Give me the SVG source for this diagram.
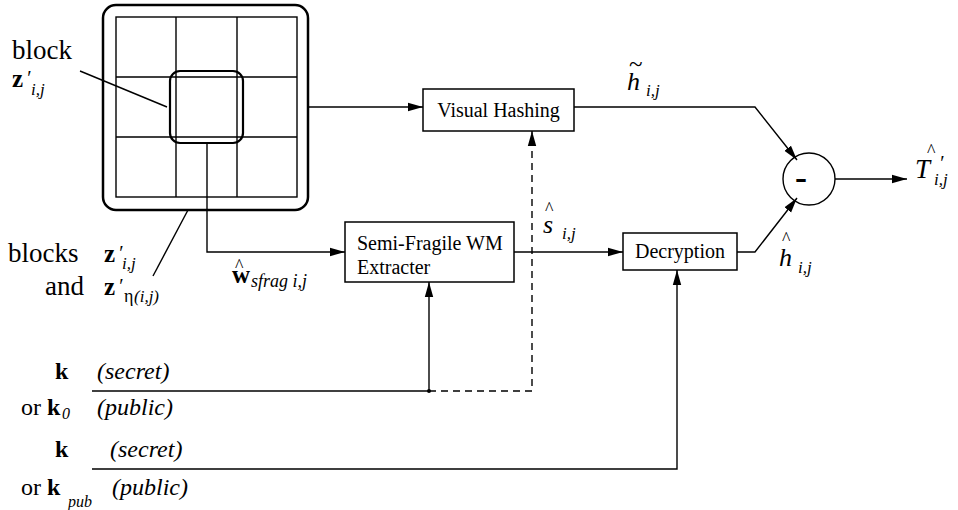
<svg xmlns="http://www.w3.org/2000/svg" width="958" height="510" viewBox="0 0 958 510">
<style>
.t{font-size:27px}
.b{font-weight:bold}
.i{font-style:italic}
.box{fill:#fff;stroke:#000;stroke-width:1.5}
.ln{fill:none;stroke:#000;stroke-width:1.4}
.bt{font-size:20px}
.k{font-size:24px}
</style>
<defs>
<marker id="ah" markerUnits="userSpaceOnUse" markerWidth="16" markerHeight="10" refX="15" refY="5" orient="auto">
<path d="M0,0.8 L15,5 L0,9.2 Z" fill="#000"/>
</marker>
</defs>

<g id="image">
<rect x="103" y="5" width="205" height="205" rx="13" fill="#fff" stroke="#000" stroke-width="2.5"/>
<rect x="116" y="17" width="181" height="180" fill="none" stroke="#000" stroke-width="1.4"/>
<path d="M176,17V197M237,17V197M116,77H297M116,137H297" class="ln"/>
<rect x="170" y="71" width="73" height="72" rx="10" fill="none" stroke="#000" stroke-width="2.2"/>
</g>

<g id="labels-left">
<text style="font-family:'Liberation Serif',serif" x="12" y="59" class="t">block</text>
<text style="font-family:'Liberation Serif',serif" x="12" y="87" font-size="25" class="b">z<tspan font-weight="normal" font-style="italic" font-size="20" x="26" y="85">′</tspan><tspan font-weight="normal" font-style="italic" font-size="17" x="31" y="95">i,j</tspan></text>
<path d="M80,71L167,107" class="ln" stroke-width="1.8"/>

<text style="font-family:'Liberation Serif',serif" x="8" y="262" class="t">blocks</text>
<text style="font-family:'Liberation Serif',serif" x="104" y="262" font-size="25" class="b">z<tspan font-weight="normal" font-style="italic" font-size="20" x="118" y="260">′</tspan><tspan font-weight="normal" font-style="italic" font-size="17" x="122" y="269">i,j</tspan></text>
<text style="font-family:'Liberation Serif',serif" x="45" y="295" class="t">and</text>
<text style="font-family:'Liberation Serif',serif" x="104" y="295" font-size="25" class="b">z<tspan font-weight="normal" font-style="italic" font-size="20" x="118" y="293">′</tspan><tspan font-weight="normal" font-size="18" x="124" y="302">η</tspan><tspan font-weight="normal" font-style="italic" font-size="17" x="134" y="302">(i,j)</tspan></text>
<path d="M188,210L153,276" class="ln" stroke-width="1.8"/>
</g>

<g id="visual-hashing">
<rect x="423" y="89" width="151" height="42" class="box"/>
<text style="font-family:'Liberation Serif',serif" x="498.5" y="117" class="bt" text-anchor="middle">Visual Hashing</text>
</g>

<g id="semi-fragile">
<rect x="345" y="222" width="169" height="60" class="box"/>
<text style="font-family:'Liberation Serif',serif" x="357" y="250" class="bt">Semi-Fragile WM</text>
<text style="font-family:'Liberation Serif',serif" x="357" y="274" class="bt">Extracter</text>
</g>

<g id="decryption">
<rect x="623" y="233" width="114" height="37" class="box"/>
<text style="font-family:'Liberation Serif',serif" x="680" y="258" class="bt" text-anchor="middle">Decryption</text>
</g>

<g id="subtract">
<circle cx="809" cy="179" r="26" fill="#fff" stroke="#000" stroke-width="1.4"/>
<text style="font-family:'Liberation Serif',serif" x="801" y="189" font-size="36" class="b" text-anchor="middle">-</text>
</g>

<g id="connectors">
<path d="M308,107H423" class="ln" marker-end="url(#ah)"/>
<path d="M207,143V252H345" class="ln" marker-end="url(#ah)"/>
<path d="M514,252H623" class="ln" marker-end="url(#ah)"/>
<path d="M574,107H755L797,160" class="ln" marker-end="url(#ah)"/>
<path d="M737,252H755L797,198" class="ln" marker-end="url(#ah)"/>
<path d="M835,179H907" class="ln" marker-end="url(#ah)"/>
<path d="M92,391H429" class="ln"/>
<path d="M429,391V282" class="ln" marker-end="url(#ah)"/>
<path d="M429,391H532V131" class="ln" stroke-dasharray="7,5" marker-end="url(#ah)"/>
<circle cx="429" cy="391" r="2" fill="#000"/>
<path d="M92,469H677V270" class="ln" marker-end="url(#ah)"/>
</g>

<g id="signal-labels">
<text style="font-family:'Liberation Serif',serif" x="235" y="272" font-size="18">^<tspan x="232" y="283" font-size="25" font-weight="bold">w</tspan><tspan x="251" y="287" font-size="18" font-style="italic">sfrag i,j</tspan></text>

<text style="font-family:'Liberation Serif',serif" x="545" y="215" font-size="18">^<tspan x="543" y="233" font-size="26" font-style="italic">s</tspan><tspan x="562" y="239" font-size="17" font-style="italic">i,j</tspan></text>

<text style="font-family:'Liberation Serif',serif" x="629" y="72" font-size="25">~<tspan x="627" y="90" font-size="26" font-style="italic">h</tspan><tspan x="646" y="96" font-size="17" font-style="italic">i,j</tspan></text>

<text style="font-family:'Liberation Serif',serif" x="782" y="245" font-size="18">^<tspan x="779" y="266" font-size="26" font-style="italic">h</tspan><tspan x="798" y="273" font-size="17" font-style="italic">i,j</tspan></text>

<text style="font-family:'Liberation Serif',serif" x="927" y="157" font-size="18">^<tspan x="915" y="178" font-size="27" font-style="italic">T</tspan><tspan x="939" y="170" font-size="20" font-style="italic">′</tspan><tspan x="934" y="185" font-size="17" font-style="italic">i,j</tspan></text>
</g>

<g id="key-labels">
<text style="font-family:'Liberation Serif',serif" x="55" y="379" class="k b">k</text>
<text style="font-family:'Liberation Serif',serif" x="97" y="379" class="k i">(secret)</text>
<text style="font-family:'Liberation Serif',serif" x="21" y="415" class="k">or<tspan x="47" font-weight="bold">k</tspan><tspan x="62" y="419" font-size="16" font-style="italic">0</tspan></text>
<text style="font-family:'Liberation Serif',serif" x="97" y="415" class="k i">(public)</text>
<text style="font-family:'Liberation Serif',serif" x="55" y="457" class="k b">k</text>
<text style="font-family:'Liberation Serif',serif" x="110" y="457" class="k i">(secret)</text>
<text style="font-family:'Liberation Serif',serif" x="21" y="495" class="k">or<tspan x="47" font-weight="bold">k</tspan><tspan x="68" y="507" font-size="16" font-style="italic">pub</tspan></text>
<text style="font-family:'Liberation Serif',serif" x="112" y="495" class="k i">(public)</text>
</g>
</svg>
